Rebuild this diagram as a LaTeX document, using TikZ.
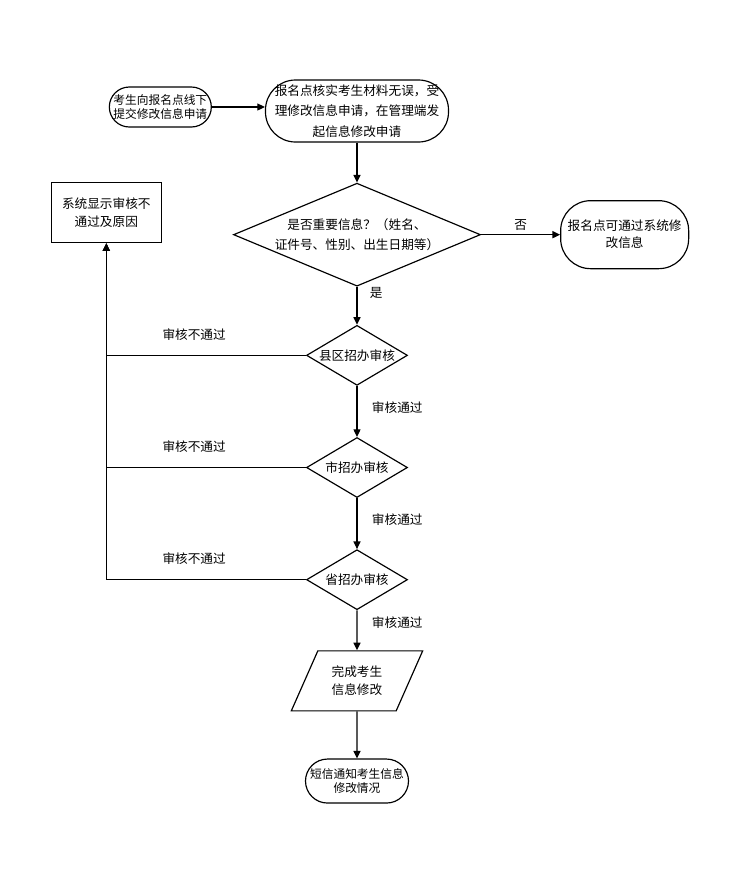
\documentclass[tikz,border=0pt]{standalone}
\usepackage{fontspec}
\setmainfont{Noto Sans CJK SC}
\usepackage{tikz}
\usetikzlibrary{shapes,arrows,arrows.meta,positioning,calc}

\begin{document}
\begin{tikzpicture}[
    every node/.style={font=\fontsize{10.8}{16}\selectfont},
    term/.style={draw, line width=1pt, align=center, rounded corners=0.6cm, inner sep=1pt},
    box/.style={draw, line width=1pt, align=center, inner sep=2pt},
    decision/.style={draw, line width=1pt, diamond, align=center, inner sep=0pt},
    io/.style={draw, line width=1pt, trapezium, trapezium left angle=62, trapezium right angle=118,
               trapezium stretches=true, align=center},
    review/.style={decision, minimum width=3.03cm, minimum height=1.8cm, aspect=1.68},
    arrow/.style={-{Triangle[length=6.5pt, width=6pt]}, line width=1.1pt},
    lbl/.style={inner sep=2pt}
]
  \useasboundingbox (-10.71,3.33) rectangle (11.70,-23.07);

  % Top row: application
  \node[term, minimum width=5.49cm, minimum height=1.86cm, rounded corners=0.9cm,
        font=\fontsize{10.8}{17.5}\selectfont] (accept)
        {报名点核实考生材料无误，受\\理修改信息申请，在管理端发\\起信息修改申请};
  \node[term, minimum width=3.06cm, minimum height=1.2cm, font=\fontsize{10}{11.5}\selectfont,
        left=1.59cm of accept, yshift=0.12cm] (apply) {考生向报名点线下\\提交修改信息申请};

  % Important information?
  \node[decision, minimum width=7.41cm, minimum height=3.09cm, aspect=2.4,
        font=\fontsize{10.8}{16.5}\selectfont, below=1.2cm of accept] (important)
        {是否重要信息？（姓名、\\证件号、性别、出生日期等）};
  \node[term, minimum width=3.84cm, minimum height=2.04cm, rounded corners=0.9cm,
        font=\fontsize{10.8}{14.5}\selectfont, right=2.37cm of important] (site)
        {报名点可通过系统修\\改信息};
  \node[box, minimum width=3.3cm, minimum height=1.8cm, font=\fontsize{10.8}{15}\selectfont,
        left=2.13cm of important, yshift=0.66cm] (reject) {系统显示审核不\\通过及原因};

  % Review chain
  \node[review, below=1.14cm of important] (county) {县区招办审核};
  \node[review, below=1.53cm of county] (city) {市招办审核};
  \node[review, below=1.53cm of city] (province) {省招办审核};
  \node[io, minimum width=3.96cm, minimum height=1.8cm, font=\fontsize{10.8}{15}\selectfont,
        below=1.2cm of province] (done) {完成考生\\信息修改};
  \node[term, minimum width=3.09cm, minimum height=1.32cm, rounded corners=0.66cm,
        font=\fontsize{10}{11.5}\selectfont, below=1.41cm of done] (notify)
        {短信通知考生信息\\修改情况};

  % Main flow
  \draw[arrow] (apply) -- (apply -| accept.west);
  \draw[arrow] (accept) -- (important);
  \draw[arrow] (important) -- node[lbl, above=1pt]{否} (site);
  \draw[arrow] (important) -- node[lbl, pos=0.15, right=0.3cm]{是} (county);
  \draw[arrow] (county) -- node[lbl, pos=0.42, right=0.36cm]{审核通过} (city);
  \draw[arrow] (city) -- node[lbl, pos=0.43, right=0.36cm]{审核通过} (province);
  \draw[arrow] (province) -- node[lbl, pos=0.3, right=0.36cm]{审核通过} (done);
  \draw[arrow] (done) -- (notify);

  % Rejections back to the notice box
  \draw[arrow] (county.west) -| node[lbl, pos=0.28, above=0.37cm]{审核不通过} (reject.south);
  \draw[arrow] (city.west) -| node[lbl, pos=0.28, above=0.37cm]{审核不通过} (reject.south);
  \draw[arrow] (province.west) -| node[lbl, pos=0.28, above=0.37cm]{审核不通过} (reject.south);

\end{tikzpicture}
\end{document}
